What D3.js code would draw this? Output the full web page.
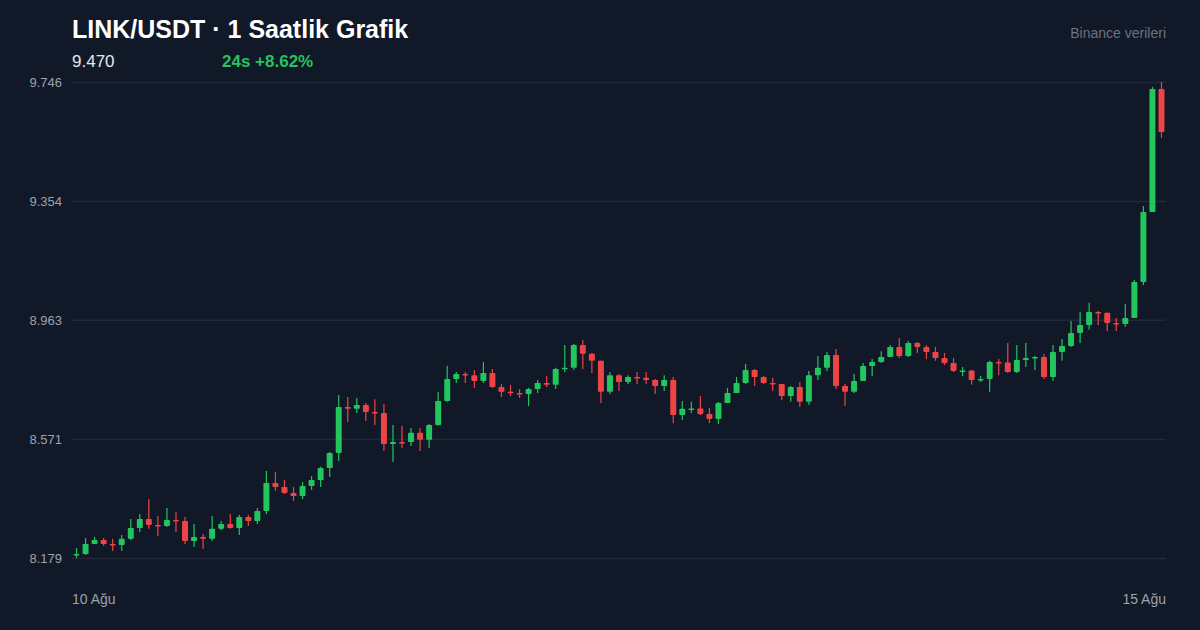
<!DOCTYPE html>
<html><head><meta charset="utf-8">
<script src="https://cdn.jsdelivr.net/npm/d3@7/dist/d3.min.js"></script>
<style>body{margin:0;background:#111827;}svg{display:block;font-family:"Helvetica Neue",Arial,"Liberation Sans",sans-serif;}</style>
</head><body>
<svg id="c" width="1200" height="630"></svg>
<script>
const opens=[8.187,8.192,8.225,8.238,8.225,8.222,8.242,8.278,8.307,8.288,8.284,8.304,8.301,8.235,8.248,8.242,8.275,8.291,8.278,8.314,8.301,8.334,8.426,8.413,8.393,8.383,8.416,8.436,8.475,8.525,8.676,8.670,8.683,8.660,8.656,8.554,8.561,8.561,8.591,8.568,8.617,8.696,8.768,8.785,8.781,8.762,8.788,8.742,8.726,8.722,8.719,8.735,8.755,8.749,8.801,8.805,8.880,8.851,8.828,8.726,8.781,8.758,8.775,8.772,8.765,8.745,8.765,8.650,8.670,8.671,8.653,8.637,8.689,8.722,8.755,8.798,8.775,8.755,8.752,8.712,8.742,8.693,8.781,8.805,8.847,8.745,8.726,8.762,8.811,8.824,8.841,8.874,8.844,8.887,8.874,8.857,8.837,8.821,8.795,8.796,8.765,8.768,8.824,8.823,8.791,8.831,8.837,8.841,8.775,8.857,8.877,8.920,8.946,8.989,8.986,8.953,8.949,8.969,9.088,9.318,9.723];
const closes=[8.192,8.225,8.238,8.225,8.222,8.242,8.278,8.307,8.288,8.284,8.304,8.301,8.235,8.248,8.242,8.275,8.291,8.278,8.314,8.301,8.334,8.426,8.413,8.393,8.383,8.416,8.436,8.475,8.525,8.676,8.670,8.683,8.660,8.656,8.554,8.561,8.559,8.591,8.568,8.617,8.696,8.768,8.785,8.781,8.762,8.788,8.742,8.726,8.722,8.719,8.735,8.755,8.749,8.801,8.805,8.880,8.851,8.828,8.726,8.781,8.758,8.775,8.772,8.765,8.745,8.765,8.650,8.670,8.671,8.653,8.637,8.689,8.722,8.755,8.798,8.775,8.755,8.752,8.712,8.742,8.693,8.781,8.805,8.847,8.745,8.726,8.762,8.811,8.824,8.841,8.874,8.844,8.887,8.874,8.857,8.837,8.821,8.795,8.796,8.765,8.768,8.824,8.823,8.791,8.831,8.837,8.841,8.775,8.857,8.877,8.920,8.946,8.989,8.986,8.953,8.949,8.969,9.088,9.318,9.723,9.581];
const highs=[8.212,8.245,8.248,8.245,8.242,8.255,8.307,8.324,8.373,8.317,8.344,8.330,8.314,8.291,8.258,8.317,8.301,8.324,8.321,8.321,8.344,8.465,8.462,8.436,8.413,8.429,8.449,8.479,8.528,8.716,8.709,8.706,8.689,8.702,8.686,8.617,8.614,8.607,8.607,8.620,8.726,8.811,8.791,8.791,8.798,8.824,8.801,8.752,8.749,8.735,8.739,8.765,8.778,8.805,8.880,8.884,8.897,8.854,8.828,8.791,8.785,8.781,8.791,8.791,8.768,8.781,8.775,8.696,8.693,8.712,8.673,8.693,8.739,8.775,8.818,8.801,8.778,8.772,8.749,8.745,8.758,8.795,8.844,8.857,8.867,8.752,8.785,8.821,8.834,8.860,8.880,8.903,8.893,8.890,8.880,8.874,8.854,8.837,8.808,8.798,8.778,8.828,8.834,8.887,8.880,8.887,8.844,8.851,8.880,8.900,8.959,8.989,9.019,8.992,8.986,8.969,9.015,9.094,9.338,9.730,9.746];
const lows=[8.179,8.189,8.228,8.219,8.202,8.202,8.238,8.265,8.275,8.251,8.281,8.265,8.225,8.215,8.209,8.235,8.271,8.275,8.255,8.284,8.291,8.324,8.400,8.390,8.367,8.373,8.403,8.413,8.446,8.498,8.627,8.656,8.630,8.617,8.531,8.495,8.541,8.548,8.531,8.541,8.614,8.693,8.755,8.755,8.739,8.755,8.739,8.709,8.712,8.706,8.679,8.722,8.742,8.735,8.791,8.798,8.801,8.788,8.689,8.719,8.729,8.752,8.752,8.752,8.719,8.729,8.623,8.633,8.656,8.650,8.623,8.620,8.689,8.722,8.752,8.745,8.752,8.729,8.699,8.693,8.676,8.683,8.765,8.795,8.735,8.679,8.722,8.762,8.778,8.821,8.841,8.837,8.841,8.854,8.834,8.828,8.814,8.791,8.778,8.749,8.758,8.726,8.781,8.788,8.788,8.808,8.798,8.768,8.762,8.828,8.874,8.887,8.930,8.946,8.926,8.926,8.940,8.969,9.078,9.318,9.562];
const yTicks=[8.179,8.571,8.963,9.354,9.746];
const xLabels=["10 Ağu","15 Ağu"];
const title="LINK/USDT · 1 Saatlik Grafik", lastPrice="9.470", change="24s +8.62%", source="Binance verileri";

const svg=d3.select("#c");
svg.append("rect").attr("width",1200).attr("height",630).attr("fill","#111827");
const L=72,R=1166,T=82,B=558;
const idx=d3.range(closes.length);
const x=d3.scaleBand().domain(idx).range([L,R]).paddingInner(0.34).paddingOuter(0.17);
const y=d3.scaleLinear().domain([yTicks[0],yTicks[yTicks.length-1]]).range([B,T]);
const grid=svg.append("g").attr("transform",`translate(${L},0)`)
 .call(d3.axisLeft(y).tickValues(yTicks).tickSize(-(R-L)).tickFormat(d3.format(".3f")));
grid.select(".domain").remove();
grid.selectAll(".tick line").attr("stroke","#1f2937").attr("stroke-width",1.5);
grid.selectAll(".tick text").attr("x",-10).attr("fill","#9ca3af").attr("font-size",13);
const data=idx.map(i=>({i,o:opens[i],c:closes[i],h:highs[i],l:lows[i]}));
const col=d=>d.c>=d.o?"#22c55e":"#ef4444";
const g=svg.append("g");
g.selectAll("line.w").data(data).join("line")
 .attr("x1",d=>x(d.i)+x.bandwidth()/2).attr("x2",d=>x(d.i)+x.bandwidth()/2)
 .attr("y1",d=>y(d.h)).attr("y2",d=>y(d.l)).attr("stroke",col).attr("stroke-width",1.2);
g.selectAll("rect.b").data(data).join("rect")
 .attr("x",d=>x(d.i)).attr("width",x.bandwidth())
 .attr("y",d=>y(Math.max(d.o,d.c))).attr("height",d=>Math.max(1.5,Math.abs(y(d.o)-y(d.c))))
 .attr("fill",col).attr("rx",0.8);
svg.append("text").attr("x",72).attr("y",38).attr("fill","#ffffff").attr("font-size",25).attr("font-weight","bold").text(title);
svg.append("text").attr("x",72).attr("y",67).attr("fill","#e5e7eb").attr("font-size",17).text(lastPrice);
svg.append("text").attr("x",222).attr("y",67).attr("fill","#22c55e").attr("font-size",17).attr("font-weight","bold").text(change);
svg.append("text").attr("x",1166).attr("y",38).attr("text-anchor","end").attr("fill","#6b7280").attr("font-size",14).text(source);
svg.append("text").attr("x",72).attr("y",604).attr("fill","#9ca3af").attr("font-size",14).text(xLabels[0]);
svg.append("text").attr("x",1166).attr("y",604).attr("text-anchor","end").attr("fill","#9ca3af").attr("font-size",14).text(xLabels[1]);
</script></body></html>
